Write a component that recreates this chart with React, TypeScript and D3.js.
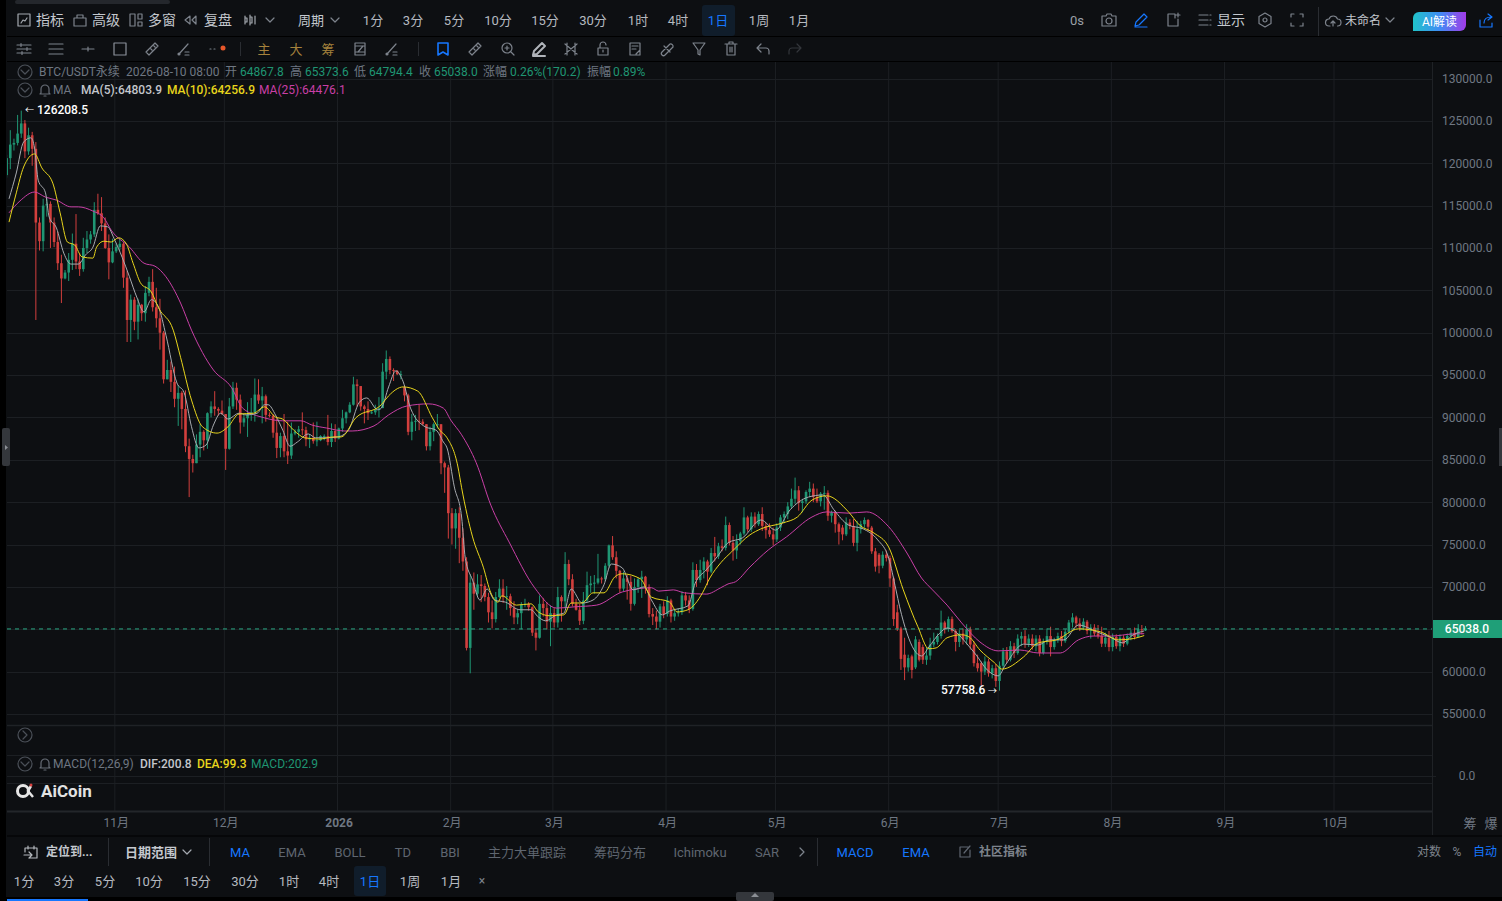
import React, { useEffect, useRef } from 'react';
import * as d3 from 'd3';

// daily candles, in thousands of USDT. first one is 2025-10-02
const opensK = [
  118.6,120.6,122.2,122.4,123.5,124.7,121.4,123.3,121.7,113.0,
  110.8,115.0,115.2,113.0,110.7,108.2,106.4,107.1,108.6,110.5,
  108.4,107.5,110.0,111.0,111.6,114.5,114.1,112.9,110.0,108.3,
  109.6,110.1,110.5,106.5,101.5,103.9,101.3,103.3,102.3,104.7,
  106.0,103.0,101.7,100.0,94.5,95.6,94.2,92.2,92.9,91.0,
  86.6,85.1,84.6,86.8,88.3,87.3,90.5,91.3,91.0,90.8,
  90.4,86.3,91.3,93.5,92.1,89.4,89.9,90.4,90.6,92.7,
  92.0,92.5,90.3,90.2,88.2,86.4,87.8,86.0,85.5,88.1,
  88.3,88.6,88.5,87.4,87.6,87.2,87.3,87.8,87.8,87.1,
  88.4,87.5,88.7,89.9,90.6,91.5,93.9,93.7,91.3,91.0,
  90.5,90.6,90.9,91.1,95.4,96.9,95.6,95.5,95.1,93.6,
  92.6,88.3,89.5,89.6,89.5,89.2,86.6,88.3,89.2,89.2,
  84.6,84.1,78.7,76.9,78.7,75.8,73.0,62.8,70.5,69.2,
  70.3,70.1,68.8,67.0,66.2,68.8,69.8,68.8,68.9,67.5,
  66.4,66.9,67.9,68.0,67.6,64.6,64.0,68.0,67.5,65.9,
  66.9,65.8,68.8,68.3,72.7,70.9,68.0,67.3,66.0,68.4,
  70.2,70.4,70.5,71.0,70.9,72.5,74.9,73.5,71.9,69.8,
  71.0,70.6,68.0,70.0,70.9,71.2,70.0,66.8,66.5,65.9,
  67.7,66.8,68.4,66.5,66.9,67.0,69.0,68.4,67.4,72.0,
  70.8,72.0,73.0,71.8,74.0,73.6,74.8,74.6,77.3,75.2,
  74.3,75.4,76.3,78.2,76.8,78.3,77.4,78.6,77.2,76.7,
  76.2,75.6,77.0,78.2,78.6,79.5,80.4,81.4,79.9,80.1,
  81.2,81.6,80.6,80.1,81.0,81.1,78.4,78.8,77.4,77.0,
  76.2,77.6,77.2,75.2,76.8,77.4,77.9,77.0,74.2,73.8,
  72.5,73.8,73.4,71.0,67.0,65.1,62.0,60.5,61.8,60.5,
  63.5,62.9,61.4,61.9,63.2,63.5,64.2,65.8,65.0,66.2,
  64.8,63.5,64.5,63.8,65.0,63.2,61.0,61.0,60.0,61.2,
  59.8,60.4,58.9,60.7,62.4,61.4,63.0,62.2,63.9,64.2,
  63.3,63.9,63.0,63.9,62.2,63.5,64.2,62.9,63.7,64.2,
  63.6,64.7,65.8,66.4,65.7,65.2,65.9,64.8,65.2,64.5,
  64.2,63.3,64.0,62.9,64.1,63.0,64.0,63.3,64.2,64.6,
  64.1,65.0,64.8678,
];
const highsK = [
  121.0,123.9,122.9,125.7,126.2085,125.1,124.2,123.7,122.5,113.6,
  115.8,115.9,115.5,113.6,111.9,109.2,107.4,109.4,111.7,114.0,
  109.4,111.2,112.0,112.0,115.4,116.4,116.0,113.6,111.6,111.1,
  110.5,111.2,110.7,107.3,104.5,104.2,104.0,103.4,105.5,106.6,
  107.5,105.3,104.0,100.2,96.8,96.6,96.0,93.8,93.1,93.2,
  87.5,85.6,88.0,89.2,88.5,90.6,91.9,93.1,91.2,92.0,
  90.4,92.3,94.2,94.1,92.7,90.3,91.8,92.3,94.6,94.5,
  93.6,92.7,90.6,90.4,90.0,88.2,90.4,89.5,89.4,88.6,
  89.0,90.6,88.9,88.0,89.4,89.5,87.9,88.0,90.3,89.3,
  89.2,88.8,90.9,90.7,91.8,94.8,94.5,93.7,91.5,91.9,
  90.8,91.5,92.4,96.4,97.9,97.2,95.8,95.6,95.5,93.8,
  92.8,90.4,90.3,91.5,89.8,89.2,88.9,89.4,90.4,89.2,
  84.8,84.4,79.3,79.2,79.4,76.9,73.5,71.5,71.7,71.5,
  71.4,70.4,69.3,68.4,69.4,70.9,70.9,70.1,69.2,68.3,
  67.3,68.2,68.6,68.2,67.7,65.0,69.0,68.7,68.2,67.8,
  67.5,70.0,69.0,74.1,73.2,71.5,68.6,68.0,69.4,71.8,
  71.3,71.4,73.9,71.2,72.8,75.0,76.0,74.2,72.0,71.8,
  71.4,71.3,71.0,71.1,71.9,71.3,70.3,67.5,67.2,68.0,
  68.3,68.9,68.6,67.3,67.5,69.5,69.4,69.0,72.9,72.7,
  73.2,73.5,73.2,74.6,75.9,75.2,75.6,78.3,77.6,76.0,
  76.2,76.5,79.4,78.4,78.8,78.8,78.9,79.4,77.6,77.5,
  77.0,77.5,78.5,78.9,80.0,81.6,82.9,81.9,80.4,81.4,
  82.4,82.2,81.6,81.2,81.9,81.4,79.0,79.0,77.6,77.3,
  78.2,78.0,78.0,77.8,77.8,78.2,78.0,77.2,74.6,74.0,
  74.2,74.3,73.7,71.2,67.9,65.3,64.0,62.0,62.0,64.2,
  63.8,63.2,62.9,64.0,64.6,64.5,67.2,66.0,66.5,66.5,
  65.0,64.9,65.1,65.6,65.3,63.6,62.0,61.2,61.8,61.5,
  60.8,60.9,61.2,62.8,62.9,63.6,63.4,64.4,64.7,64.9,
  64.4,64.4,64.3,64.3,63.9,65.1,65.3,64.0,64.6,64.8,
  65.0,66.1,66.9,66.6,66.3,66.3,66.1,65.6,65.6,65.5,
  65.3,64.6,64.8,64.5,64.4,64.4,64.3,64.5,64.9,65.2,
  65.6,65.5,65.3736,
];
const lowsK = [
  118.3,119.3,121.5,122.1,123.0,120.6,121.0,119.7,101.5,109.7,
  109.6,113.7,110.0,110.1,107.4,103.5,106.3,106.1,107.4,107.5,
  106.7,107.2,109.4,110.5,111.3,113.9,112.0,109.9,106.3,108.2,
  109.4,109.7,105.3,98.9,98.9,100.3,99.2,101.4,101.3,104.3,
  102.5,100.6,98.0,94.0,94.5,93.0,91.2,89.0,88.6,85.9,
  80.6,83.5,84.6,85.3,86.1,86.3,90.0,90.2,90.2,90.3,
  83.8,86.2,91.0,90.9,88.1,88.9,87.7,89.6,89.5,91.6,
  89.3,89.5,90.0,87.6,85.2,85.3,85.3,84.5,85.1,87.9,
  87.6,87.9,86.6,86.4,86.9,86.6,87.2,87.3,86.7,86.5,
  87.1,87.4,88.3,89.3,90.5,91.4,91.3,90.8,89.3,89.7,
  90.4,90.3,90.0,91.1,94.5,95.1,94.3,95.0,94.5,91.9,
  87.9,87.3,88.4,88.5,89.1,86.1,86.1,87.2,88.7,83.3,
  81.1,75.7,75.0,74.5,72.8,71.9,62.5,59.8,67.3,68.8,
  68.2,68.3,65.8,65.1,65.8,68.7,68.1,67.3,66.6,65.6,
  65.6,65.0,67.6,67.2,64.2,62.5,63.9,66.5,65.0,63.0,
  65.2,65.2,65.9,67.5,70.2,67.7,67.2,65.5,65.6,68.1,
  69.3,69.2,70.3,70.4,70.7,72.3,73.2,71.0,69.3,69.5,
  68.5,67.2,67.8,69.3,68.7,69.2,66.4,65.5,65.0,65.2,
  66.3,66.5,65.8,66.0,66.5,66.7,67.8,66.9,67.2,70.0,
  70.5,71.0,70.2,71.6,73.0,73.3,74.2,74.3,74.9,73.1,
  73.3,75.0,76.1,76.5,76.5,77.0,77.2,76.6,75.7,75.9,
  74.9,75.3,76.6,77.5,78.0,79.2,79.8,79.0,78.8,79.8,
  80.6,80.0,79.9,79.5,79.1,77.8,77.6,76.4,75.0,75.5,
  76.0,76.8,74.8,74.2,76.3,77.0,76.6,73.9,71.8,71.6,
  72.2,73.0,70.0,65.4,64.8,60.2,59.0,60.0,59.2,60.3,
  61.2,60.9,60.8,61.4,62.9,63.2,63.9,64.5,64.7,64.6,
  62.4,62.9,63.2,63.2,62.6,60.6,60.0,58.3,59.6,59.4,
  59.2,58.2,57.7586,60.4,61.0,61.2,61.6,62.0,63.0,62.8,
  62.9,62.6,62.4,61.8,62.0,63.2,61.8,62.6,63.4,63.0,
  63.4,64.5,65.2,65.2,64.8,64.9,64.4,63.9,64.2,63.9,
  62.9,62.9,62.4,62.4,62.7,62.4,62.9,63.1,63.7,63.8,
  64.0,64.4,64.7944,
];
const closesK = [
  120.6,122.2,122.4,123.5,124.7,121.4,123.3,121.7,113.0,110.8,
  115.0,115.2,113.0,110.7,108.2,106.4,107.1,108.6,110.5,108.4,
  107.5,110.0,111.0,111.6,114.5,114.1,112.9,110.0,108.3,109.6,
  110.1,110.5,106.5,101.5,103.9,101.3,103.3,102.3,104.7,106.0,
  103.0,101.7,100.0,94.5,95.6,94.2,92.2,92.9,91.0,86.6,
  85.1,84.6,86.8,88.3,87.3,90.5,91.3,91.0,90.8,90.4,
  86.3,91.3,93.5,92.1,89.4,89.9,90.4,90.6,92.7,92.0,
  92.5,90.3,90.2,88.2,86.4,87.8,86.0,85.5,88.1,88.3,
  88.6,88.5,87.4,87.6,87.2,87.3,87.8,87.8,87.1,88.4,
  87.5,88.7,89.9,90.6,91.5,93.9,93.7,91.3,91.0,90.5,
  90.6,90.9,91.1,95.4,96.9,95.6,95.5,95.1,95.1,92.6,
  88.3,89.5,89.6,89.5,89.2,86.6,88.3,89.2,89.2,84.6,
  84.1,78.7,76.9,78.7,75.8,73.0,62.8,70.5,69.2,70.3,
  70.1,68.8,67.0,66.2,68.8,69.8,68.8,68.9,67.5,66.4,
  66.9,67.9,68.0,67.6,64.6,64.0,68.0,67.5,65.9,66.9,
  65.8,68.8,68.3,72.7,70.9,68.0,67.3,66.0,68.4,70.2,
  70.4,70.5,71.0,70.9,72.5,74.9,73.5,71.9,69.8,71.0,
  70.6,68.0,70.0,70.9,71.2,70.0,66.8,66.5,65.9,67.7,
  66.8,68.4,66.5,66.9,67.0,69.0,68.4,67.4,72.0,70.8,
  72.0,73.0,71.8,74.0,73.6,74.8,74.6,77.3,75.2,74.3,
  75.4,76.3,78.2,76.8,78.3,77.4,78.6,77.2,76.7,76.2,
  75.6,77.0,78.2,78.6,79.5,80.4,81.4,79.9,80.1,81.2,
  81.6,80.6,80.1,81.0,81.1,78.4,78.8,77.4,76.5,76.2,
  77.6,77.2,75.2,76.8,77.4,77.9,77.1,74.2,72.4,72.5,
  73.8,73.4,71.0,66.2,65.1,61.5,60.5,61.6,60.2,63.8,
  61.4,61.4,61.9,63.2,63.5,64.2,65.8,65.0,66.2,64.8,
  63.5,64.5,63.8,65.0,63.2,61.0,60.4,60.0,61.2,59.8,
  60.4,58.9,60.7,62.4,61.4,63.0,62.2,63.9,64.2,63.3,
  63.9,63.0,63.9,62.2,63.5,64.2,62.9,63.7,64.2,63.6,
  64.7,65.8,66.4,65.7,65.2,65.9,64.8,65.2,64.5,64.2,
  63.3,64.0,62.9,64.1,63.0,64.0,63.3,64.2,64.6,64.1,
  65.0,64.9,65.038,
];

// moving averages, sampled by eye. day = days after 2025-10-03
const ma5Days = [0,2,4,6,7,8,10,11,13,15,17,19,21,23,25,27,29,31,33,35,37,39,41,43,46,48,50,52,54,56,58,60,63,65,68,70,71,73,75,77,79,82,84,87,90,93,96,98,101,102,104,106,108,110,114,117,119,120,122,124,125,127,129,131,133,136,140,143,145,147,150,152,154,157,160,163,165,168,171,174,176,179,181,186,188,191,194,197,201,206,210,214,219,223,226,230,234,238,241,243,244,246,248,250,252,255,257,261,262,265,268,271,273,278,282,285,289,293,298,302,305,308,311];
const ma5Values = [115800,118850,122500,123000,121800,118000,116500,113650,112360,109400,108100,108100,109200,110100,112600,112500,110900,108900,106600,104200,102450,103900,103000,99700,94070,92900,88900,86400,86750,89100,90500,89800,90500,90300,90500,91500,91500,90300,88500,86600,87100,88050,87600,87600,87700,88500,91800,92300,90900,91100,93600,95500,94200,91100,88900,88500,87100,86400,81800,78250,73400,70800,68450,69750,68450,68200,67300,67300,66450,66000,66700,66900,69750,68100,68450,70250,72700,72250,69650,70000,68450,66700,67150,67750,70450,72000,73550,75200,75800,77900,76700,79100,80600,80850,79100,77300,76850,75550,73400,69650,67650,64550,62550,61850,62900,64550,65150,64000,63500,61950,60200,59500,60800,63250,63150,63750,63750,65500,64700,64000,63400,64350,64803.9];

const ma10Days = [0,2,4,7,9,12,14,16,18,20,23,24,26,28,30,32,34,36,39,41,45,47,50,53,57,60,63,67,70,73,75,78,81,85,89,91,95,102,104,108,112,116,118,120,123,124,127,130,132,134,135,139,143,145,148,152,154,157,160,163,166,168,173,176,181,183,186,190,192,195,198,203,206,212,216,220,224,230,233,237,241,245,249,252,254,257,261,263,266,270,272,278,282,287,293,299,304,308,311];
const ma10Values = [113050,116500,119550,121100,119450,117650,114150,110700,110350,108950,108800,110100,110800,110700,111200,110600,108200,105900,104800,102900,100300,97100,92050,88900,88150,88900,90400,90500,91250,90050,89800,88500,87600,87450,87700,87700,89950,91500,92550,93600,93100,89950,88500,87600,84150,81700,75900,72250,69300,68200,68950,67850,68000,67050,66600,66700,68100,68100,69300,69300,71200,71550,70950,68800,68200,67050,67300,69300,71050,72850,74150,76150,76850,77550,78250,80250,80750,78850,77300,76350,74700,69650,65300,62700,62800,64000,64350,64100,62550,61050,60300,61750,63400,63750,65050,64700,63750,63900,64256.9];

const ma25Days = [0,3,7,10,13,17,19,23,26,28,33,37,40,43,47,50,56,61,64,70,75,80,83,87,92,94,100,104,109,115,119,121,124,128,132,137,144,150,155,161,168,176,178,182,185,191,195,197,199,203,208,213,220,224,230,235,241,246,250,253,257,261,266,271,277,282,288,293,297,302,308,311];
const ma25Values = [114150,115550,116600,116000,115650,114850,114850,114350,113550,112100,110100,108200,107850,106600,103500,100300,95600,93500,91100,89950,89600,89600,89100,88750,88400,88400,89000,90300,91350,91600,91100,89700,87950,84650,79650,75300,69900,67500,67650,67850,69400,69900,69500,69650,69300,69150,69900,70350,70600,72350,74350,75900,78250,78850,78700,78850,77100,74000,71050,69650,67850,65750,63500,62450,62550,62200,62200,63750,64200,64200,64450,64476.1];

const priceTicks = [130000,125000,120000,115000,110000,105000,100000,95000,90000,85000,80000,75000,70000,65000,60000,55000];
const lastPrice = 65038.0;
const highLabel = '126208.5';
const lowLabel = '57758.6';

const topFrames = ['1分','3分','5分','10分','15分','30分','1时','4时','1日','1周','1月'];
const topFrameX = [373,413,454,498,545,593,638,678,718,759,799];
const bottomFrames = ['1分','3分','5分','10分','15分','30分','1时','4时','1日','1周','1月'];
const bottomFrameX = [24,64,105,149,197,245,289,329,370,410,451];
const indicatorNames = ['MA','EMA','BOLL','TD','BBI','主力大单跟踪','筹码分布','Ichimoku','SAR'];
const indicatorX = [240,292,350,403,450,527,620,700,767];

const FONT = 'Roboto, "Noto Sans CJK SC", sans-serif';
const BG = '#0d0f12';
const GRID = '#1c1f23';
const AXIS_TEXT = '#6f7782';
const UP = '#1f9673';
const DOWN = '#d23f3d';
const BLUE = '#1677ff';
const LINE_GREY = '#a8abb0';
const LINE_YELLOW = '#e8d51c';
const LINE_PINK = '#c93fa6';
const ICON = '#7d838c';

const candleStart = new Date(Date.UTC(2025, 9, 2));
const maStart = new Date(Date.UTC(2025, 9, 3));
const x = d3.scaleUtc().domain([maStart, new Date(Date.UTC(2026, 9, 1))]).range([9, 1334]);
const y = d3.scaleLinear().domain([55000, 130000]).range([714, 78.5]);
const CANDLE_SHIFT = 1.3;

type TProps = { x: number; y: number; c?: string; s?: number; w?: number; a?: string; children: React.ReactNode };
const T = ({ x, y, c = '#c4c8ce', s = 12, w = 400, a = 'start', children }: TProps) => (
  <text x={x} y={y} fill={c} fontSize={s} fontWeight={w} textAnchor={a as any} fontFamily={FONT} dominantBaseline="central">{children}</text>
);

// very rough toolbar glyphs
const Icon = ({ x, y, d, c = ICON, w = 1.2 }: { x: number; y: number; d: string; c?: string; w?: number }) => (
  <path transform={`translate(${x},${y})`} d={d} fill="none" stroke={c} strokeWidth={w} strokeLinecap="round" strokeLinejoin="round" />
);
const CHEV = 'M-4,-2L0,2L4,-2';
const BOX = 'M-6,-6H6V6H-6Z';
const PEN = 'M-6,6L-5,2L3,-6L6,-3L-2,5ZM-6,7H6';
const RULER = 'M-6,3L3,-6L6,-3L-3,6ZM-2,-1L0,1M1,-4L3,-2';
const TREND = 'M-5,5L4,-5M-5,5m-1,0a1,1 0 1,0 2,0a1,1 0 1,0 -2,0M5,3H1M5,6H1';
const LINES3 = 'M-7,-5H7M-7,0H7M-7,5H7';
const CIRCLE7 = 'M-7,0a7,7 0 1,0 14,0a7,7 0 1,0 -14,0';
const BELL = 'M-4,3V-1a4,4 0 0,1 8,0V3L5,4H-5ZM-1,6H1';

const App = () => {
  const plotRef = useRef<SVGGElement | null>(null);

  useEffect(() => {
    document.body.style.margin = '0';
    document.body.style.background = BG;
    const root = d3.select(plotRef.current);
    root.selectAll('*').remove();

    // grid
    const months = d3.utcMonth.range(new Date(Date.UTC(2025, 10, 1)), new Date(Date.UTC(2026, 9, 2)));
    const grid = root.append('g');
    grid.selectAll('line.v').data(months).join('line')
      .attr('x1', d => x(d)).attr('x2', d => x(d)).attr('y1', 62).attr('y2', 811)
      .attr('stroke', GRID);
    grid.selectAll('line.h').data(priceTicks).join('line')
      .attr('x1', 7).attr('x2', 1432).attr('y1', d => Math.round(y(d)) + 0.5).attr('y2', d => Math.round(y(d)) + 0.5)
      .attr('stroke', GRID);

    // price axis, the tick under the last price tag stays hidden
    const yAxis = d3.axisRight(y).tickValues(priceTicks.filter(t => Math.abs(t - lastPrice) > 1000))
      .tickSize(0).tickPadding(10).tickFormat(d => d3.format('.1f')(d as number));
    const yG = root.append('g').attr('transform', 'translate(1432,0)').call(yAxis as any);
    yG.select('.domain').remove();
    yG.selectAll('text').attr('fill', AXIS_TEXT).attr('font-size', 12).attr('font-family', FONT);

    // time axis
    const xAxis = d3.axisBottom(x).tickValues(months).tickSize(0).tickPadding(7)
      .tickFormat(d => (d as Date).getUTCMonth() === 0 ? '2026' : `${(d as Date).getUTCMonth() + 1}月`);
    const xG = root.append('g').attr('transform', 'translate(1,811)').call(xAxis as any);
    xG.select('.domain').remove();
    xG.selectAll('text').attr('fill', AXIS_TEXT).attr('font-size', 12).attr('font-family', FONT)
      .attr('font-weight', (d: any) => d.getUTCMonth() === 0 ? 700 : 400);

    // candles
    const clip = root.append('g').attr('clip-path', 'url(#plot-clip)');
    const candles = closesK.map((c, i) => ({
      date: d3.utcDay.offset(candleStart, i),
      o: opensK[i] * 1000, h: highsK[i] * 1000, l: lowsK[i] * 1000, c: c * 1000,
    }));
    const cx = (d: { date: Date }) => x(d.date) + CANDLE_SHIFT;
    const col = (d: { o: number; c: number }) => d.c >= d.o ? UP : DOWN;
    clip.selectAll('line.wick').data(candles).join('line')
      .attr('x1', cx).attr('x2', cx).attr('y1', d => y(d.h)).attr('y2', d => y(d.l))
      .attr('stroke', col).attr('stroke-width', 1);
    clip.selectAll('rect.body').data(candles).join('rect')
      .attr('x', d => cx(d) - 1.3).attr('width', 2.6)
      .attr('y', d => y(Math.max(d.o, d.c)))
      .attr('height', d => Math.max(1, Math.abs(y(d.o) - y(d.c))))
      .attr('fill', col);

    // last price
    clip.append('line').attr('x1', 7).attr('x2', 1432).attr('y1', y(lastPrice)).attr('y2', y(lastPrice))
      .attr('stroke', '#2aa884').attr('stroke-dasharray', '4,4');

    // moving averages
    const ma = (days: number[], vals: number[], color: string) => {
      const line = d3.line<number>()
        .x(d => x(d3.utcDay.offset(maStart, d)))
        .y((_, i) => y(vals[i]))
        .curve(d3.curveMonotoneX);
      clip.append('path').attr('d', line(days)).attr('fill', 'none').attr('stroke', color).attr('stroke-width', 1);
    };
    ma(ma25Days, ma25Values, LINE_PINK);
    ma(ma5Days, ma5Values, LINE_GREY);
    ma(ma10Days, ma10Values, LINE_YELLOW);
  }, []);

  return (
    <svg width={1502} height={901} style={{ position: 'fixed', left: 0, top: 0, display: 'block' }}>
      <defs>
        <clipPath id="plot-clip"><rect x={7} y={62} width={1425} height={663} /></clipPath>
        <linearGradient id="ai-grad" x1="0" x2="1" y1="0" y2="0">
          <stop offset="0" stopColor="#20c3c9" /><stop offset="0.5" stopColor="#3f8df5" /><stop offset="1" stopColor="#a23be8" />
        </linearGradient>
      </defs>
      <rect width={1502} height={901} fill={BG} />

      {/* plot frame */}
      <g ref={plotRef} />
      <line x1={7} x2={1432} y1={725.5} y2={725.5} stroke="#1f2226" strokeWidth={1.5} />
      <line x1={7} x2={1432} y1={755.5} y2={755.5} stroke={GRID} />
      <line x1={7} x2={1436} y1={776.5} y2={776.5} stroke={GRID} />
      <line x1={7} x2={1432} y1={783.5} y2={783.5} stroke={GRID} />
      <line x1={7} x2={1432} y1={811.5} y2={811.5} stroke="#23262a" strokeWidth={2} />
      <line x1={1432.5} x2={1432.5} y1={62} y2={835} stroke="#1f2226" />

      {/* last price tag, extremes */}
      <rect x={1433} y={620} width={69} height={18} fill="#1f9f78" />
      <T x={1467} y={629} c="#fff" a="middle" w={500}>65038.0</T>
      <T x={25} y={110} c="#fff" s={9}>←</T>
      <T x={37} y={110} c="#fff" w={500}>{highLabel}</T>
      <T x={941} y={690} c="#fff" w={500}>{lowLabel}</T>
      <T x={988} y={691} c="#fff" s={9}>→</T>
      <T x={1467} y={776} c={AXIS_TEXT} a="middle">0.0</T>
      <T x={1470} y={823} c={AXIS_TEXT} a="middle" s={13}>筹</T>
      <T x={1491} y={823} c={AXIS_TEXT} a="middle" s={13}>爆</T>

      {/* legends */}
      <Icon x={25} y={72} d={CIRCLE7} c="#4b5058" />
      <Icon x={25} y={72} d={CHEV} c="#4b5058" />
      <T x={39} y={72} c={AXIS_TEXT}>BTC/USDT永续</T>
      <T x={126} y={72} c={AXIS_TEXT}>2026-08-10 08:00</T>
      <T x={225} y={72} c={AXIS_TEXT}>开</T><T x={240} y={72} c={UP}>64867.8</T>
      <T x={290} y={72} c={AXIS_TEXT}>高</T><T x={305} y={72} c={UP}>65373.6</T>
      <T x={354} y={72} c={AXIS_TEXT}>低</T><T x={369} y={72} c={UP}>64794.4</T>
      <T x={419} y={72} c={AXIS_TEXT}>收</T><T x={434} y={72} c={UP}>65038.0</T>
      <T x={483} y={72} c={AXIS_TEXT}>涨幅</T><T x={510} y={72} c={UP}>0.26%(170.2)</T>
      <T x={587} y={72} c={AXIS_TEXT}>振幅</T><T x={613} y={72} c={UP}>0.89%</T>

      <Icon x={25} y={90} d={CIRCLE7} c="#4b5058" />
      <Icon x={25} y={90} d={CHEV} c="#4b5058" />
      <Icon x={45} y={90} d={BELL} c="#666c75" />
      <T x={53} y={90} c={AXIS_TEXT}>MA</T>
      <T x={81} y={90} c="#c4c7cc" w={500}>MA(5):64803.9</T>
      <T x={167} y={90} c={LINE_YELLOW} w={500}>MA(10):64256.9</T>
      <T x={259} y={90} c={LINE_PINK}>MA(25):64476.1</T>

      <Icon x={25} y={735} d={CIRCLE7} c="#4b5058" />
      <Icon x={25} y={735} d="M-2,-4L2,0L-2,4" c="#4b5058" />
      <Icon x={25} y={764} d={CIRCLE7} c="#4b5058" />
      <Icon x={25} y={764} d={CHEV} c="#4b5058" />
      <Icon x={45} y={764} d={BELL} c="#666c75" />
      <T x={53} y={764} c={AXIS_TEXT}>MACD(12,26,9)</T>
      <T x={140} y={764} c="#c4c7cc" w={500}>DIF:200.8</T>
      <T x={197} y={764} c={LINE_YELLOW} w={500}>DEA:99.3</T>
      <T x={251} y={764} c={UP}>MACD:202.9</T>

      {/* logo */}
      <circle cx={23} cy={791} r={5.5} fill="none" stroke="#e6e6e6" strokeWidth={3} />
      <path d="M31,786L28,791L33,797" fill="none" stroke="#e6e6e6" strokeWidth={2.5} />
      <circle cx={31} cy={785} r={1.5} fill="#d8403e" />
      <T x={41} y={791} c="#e2e2e2" s={17} w={700}>AiCoin</T>

      {/* top toolbar */}
      <rect x={15} y={0} width={155} height={4} rx={2} fill="#24272c" />
      <line x1={7} x2={1502} y1={36.5} y2={36.5} stroke="#000" />
      <line x1={7} x2={1502} y1={61.5} y2={61.5} stroke="#000" />
      <Icon x={24} y={20} d={BOX + 'M-3,3L-1,0L1,1L3,-2'} c="#a4a9b0" />
      <T x={36} y={20} s={14}>指标</T>
      <Icon x={80} y={20} d="M-6,-2H6V6H-6ZM-3,-2V-5H3V-2" />
      <T x={92} y={20} s={14}>高级</T>
      <Icon x={136} y={20} d="M-6,-6H-1V6H-6ZM2,-6H6V-1H2ZM2,2H6V6H2Z" />
      <T x={148} y={20} s={14}>多窗</T>
      <Icon x={191} y={20} d="M-1,-4L-6,0L-1,4ZM5,-4L1,0L5,4Z" />
      <T x={204} y={20} s={14}>复盘</T>
      <Icon x={250} y={20} d="M-5,-4V4M-5,-2h2v4h-2M0,-5V5M0,-3h2v6h-2M5,-4V4" c="#a4a9b0" />
      <Icon x={270} y={20} d={CHEV} />
      <T x={298} y={20} s={13}>周期</T>
      <Icon x={335} y={20} d={CHEV} />
      <rect x={702} y={5} width={33} height={31} rx={3} fill="#101d2b" />
      {topFrames.map((f, i) => (
        <T key={f} x={topFrameX[i]} y={20} s={13} a="middle" c={f === '1日' ? BLUE : '#b6bac0'}>{f}</T>
      ))}
      <T x={1077} y={20} a="middle" s={13} c="#9aa0a8">0s</T>
      <Icon x={1109} y={20} d="M-7,-4H-3L-2,-6H2L3,-4H7V6H-7ZM-3,1a3,3 0 1,0 6,0a3,3 0 1,0 -6,0" />
      <Icon x={1141} y={20} d={PEN} c={BLUE} />
      <Icon x={1173} y={20} d="M-5,-6H2V-2M-5,-6V6H5V-1M5,-7V-3M3,-5H7" />
      <Icon x={1205} y={20} d="M-6,-5H3M-6,0H3M-6,5H3M5,-5H6M5,0H6M5,5H6" />
      <T x={1217} y={20} s={14}>显示</T>
      <Icon x={1265} y={20} d="M0,-7L6,-3.5V3.5L0,7L-6,3.5V-3.5ZM-2,0a2,2 0 1,0 4,0a2,2 0 1,0 -4,0" />
      <Icon x={1297} y={20} d="M-6,-3V-6H-3M3,-6H6V-3M6,3V6H3M-3,6H-6V3" />
      <line x1={1318.5} x2={1318.5} y1={7} y2={36} stroke="#2a2d32" />
      <Icon x={1333} y={21} d="M-3,5H-4a3.5,3.5 0 0,1 0,-7a4.5,4.5 0 0,1 8.5,0a3.5,3.5 0 0,1 0,7M0,5V0M-2,2L0,0L2,2" />
      <T x={1345} y={21} s={12}>未命名</T>
      <Icon x={1390} y={20} d={CHEV} />
      <path d="M1413,31V18a6,6 0 0,1 6,-6H1466V25a6,6 0 0,1 -6,6Z" fill="url(#ai-grad)" />
      <T x={1439.5} y={21.5} s={12} a="middle" c="#fff">AI解读</T>
      <Icon x={1486} y={21} d="M-6,-1V6H6V2M-2,2C-2,-2 1,-4 5,-4M2,-7L6,-4L2,-1" c={BLUE} />

      {/* drawing tools */}
      <Icon x={24} y={49} d="M-7,-4H7M-7,0H7M-7,4H7M-3,-5.5V-2.5M3,-1.5V1.5M-2,2.5V5.5" />
      <Icon x={56} y={49} d={LINES3} />
      <Icon x={88} y={49} d="M-6,0H6M0,-2V2" />
      <Icon x={120} y={49} d={BOX} c="#8a9099" />
      <Icon x={152} y={49} d={RULER} />
      <Icon x={184} y={49} d={TREND} />
      <Icon x={215} y={49} d="M-5,0H-4M-1,0H0" />
      <circle cx={223} cy={48} r={2.5} fill="#e8572a" />
      <line x1={240.5} x2={240.5} y1={42} y2={56} stroke="#2a2d32" />
      <T x={264} y={49} s={13} a="middle" c="#a5823c">主</T>
      <T x={296} y={49} s={13} a="middle" c="#a5823c">大</T>
      <T x={328} y={49} s={13} a="middle" c="#a5823c">筹</T>
      <Icon x={360} y={49} d="M-5,-6H5V6H-5ZM-2,3L3,-3M-4,-3H4M-4,3H4" />
      <Icon x={392} y={49} d={TREND} />
      <line x1={418.5} x2={418.5} y1={42} y2={56} stroke="#2a2d32" />
      <Icon x={443} y={49} d="M-5,-6H5V6L0,3L-5,6Z" c={BLUE} w={1.6} />
      <Icon x={475} y={49} d={RULER} />
      <Icon x={507} y={49} d="M-5,-1a5,5 0 1,0 10,0a5,5 0 1,0 -10,0M4,3L7,6M-2,-1H2M0,-3V1" />
      <Icon x={539} y={49} d={PEN} c="#b0b4ba" w={2} />
      <Icon x={571} y={49} d="M-6,-5L6,5M-6,5L6,-5M-4,-6V6M4,-6V6" />
      <Icon x={603} y={49} d="M-5,-1H5V6H-5ZM-3,-1V-4a3,3 0 0,1 6,0M0,1V3" />
      <Icon x={635} y={49} d="M-5,-6H5V6H-5ZM-3,-3H3M-3,0H1M1,5L5,1" />
      <Icon x={667} y={49} d="M-5,3L3,-5a2.5,2.5 0 0,1 3,3L-2,6a2,2 0 0,1 -3,-3M-3,-3L3,3" />
      <Icon x={699} y={49} d="M-6,-6H6L1,1V6L-1,5V1Z" />
      <Icon x={731} y={49} d="M-6,-5H6M-2,-5V-7H2V-5M-4,-5V6H4V-5M-1,-2V3M1,-2V3" />
      <Icon x={763} y={49} d="M-2,-5L-6,-1L-2,3M-6,-1H3a3,3 0 0,1 3,3V5" />
      <Icon x={795} y={49} d="M2,-5L6,-1L2,3M6,-1H-3a3,3 0 0,0 -3,3V5" c="#33363b" />

      {/* bottom axis + toolbars */}
      <line x1={7} x2={1502} y1={836} y2={836} stroke="#000" />
      <Icon x={31} y={852} d="M-6,-4H6V6H-1M-6,-4V0M-3,-6V-3M3,-6V-3M-7,3H1M-2,0L1,3L-2,6" c="#b4b8bd" />
      <T x={46} y={852} s={12} w={700}>定位到...</T>
      <line x1={108.5} x2={108.5} y1={838} y2={866} stroke="#2a2d32" />
      <T x={125} y={852} s={13} w={700}>日期范围</T>
      <Icon x={187} y={852} d={CHEV} c="#a4a9b0" />
      <line x1={209.5} x2={209.5} y1={838} y2={866} stroke="#2a2d32" />
      {indicatorNames.map((n, i) => (
        <T key={n} x={indicatorX[i]} y={852} s={13} a="middle" c={n === 'MA' ? BLUE : '#5f6670'}>{n}</T>
      ))}
      <Icon x={802} y={852} d="M-2,-4L2,0L-2,4" />
      <line x1={817.5} x2={817.5} y1={838} y2={866} stroke="#2a2d32" />
      <T x={855} y={852} s={13} a="middle" c={BLUE}>MACD</T>
      <T x={916} y={852} s={13} a="middle" c={BLUE}>EMA</T>
      <Icon x={965} y={852} d="M3,-5H-5V5H5V-2M-1,1L5,-6" c="#5f6670" />
      <T x={979} y={852} s={12} w={700} c="#7d838c">社区指标</T>
      <T x={1429} y={852} s={12} a="middle" c="#7d838c">对数</T>
      <T x={1457} y={852} s={12} a="middle" c="#7d838c">%</T>
      <T x={1485} y={852} s={12} a="middle" c={BLUE}>自动</T>

      <rect x={354} y={866} width={32} height={30} rx={3} fill="#101d2b" />
      {bottomFrames.map((f, i) => (
        <T key={f} x={bottomFrameX[i]} y={881} s={13} a="middle" c={f === '1日' ? BLUE : '#b6bac0'}>{f}</T>
      ))}
      <T x={482} y={881} s={12} a="middle" c="#7d838c">×</T>

      <rect x={0} y={897} width={1502} height={4} fill="#000" />
      <rect x={7} y={899} width={81} height={2} fill={BLUE} />
      <rect x={736} y={892} width={38} height={9} rx={2} fill="#34373c" />
      <path d="M751,897L755,893L759,897Z" fill="#8b8f95" />

      {/* left strip and side handles */}
      <rect x={0} y={0} width={6} height={901} fill="#000" />
      <rect x={2} y={428} width={8} height={38} rx={2} fill="#34373c" />
      <path d="M5,445L8,447.5L5,450Z" fill="#8b8f95" />
      <rect x={1499} y={428} width={3} height={38} fill="#34373c" />
    </svg>
  );
};

export default App;
